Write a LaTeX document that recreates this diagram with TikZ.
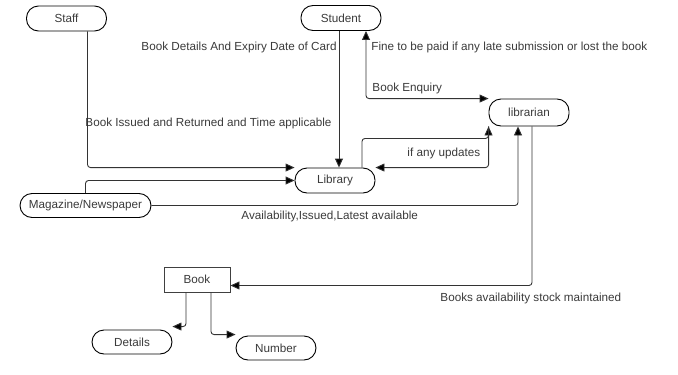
\documentclass[tikz,border=0pt]{standalone}
\usepackage{fontspec}
\setmainfont{Liberation Sans}
\usepackage{tikz}
\usetikzlibrary{arrows.meta}
\definecolor{ink}{HTML}{3A3A3A}
\tikzstyle{Entity}=[rectangle, rounded corners=12pt, minimum width=80, minimum height=25, inner sep=2, text centered, draw=black, line width=0.9pt]
\tikzstyle{Store}=[rectangle, minimum width=66, minimum height=25, text centered, draw=black!75, line width=0.9pt]
\tikzstyle{Flow}=[inner sep=0, anchor=west]

\begin{document}
\begin{tikzpicture}[x=1pt, y=-1pt, font=\fontsize{11.7}{14}\selectfont, text=ink,
    every path/.append style={line width=0.9pt},
    >={Triangle[length=9pt, width=8pt, fill=black]}]
    \useasboundingbox (0,0) rectangle (678,375);
    \path
    (66.5,18.5) node[Entity] (staff) {Staff}
    (341,18) node[Entity] (student) {Student}
    (335,180.5) node[Entity] (library) {Library}
    (529,112.5) node[Entity, minimum height=27] (librarian) {librarian}
    (85.5,205.5) node[Entity, minimum width=131, minimum height=24] (magazine) {Magazine/Newspaper}
    (197,279.5) node[Store] (book) {Book}
    (132,342) node[Entity, minimum height=24] (details) {Details}
    (276,348) node[Entity, minimum height=24] (number) {Number};

    \path (141,47) node[Flow] {Book Details And Expiry Date of Card}
    (85,123) node[Flow] {Book Issued and Returned and Time applicable}
    (371,47) node[Flow] {Fine to be paid if any late submission or lost the book}
    (372,88) node[Flow] {Book Enquiry}
    (407,153) node[Flow] {if any updates}
    (241,216) node[Flow] {Availability,Issued,Latest available}
    (440,298) node[Flow] {Books availability stock maintained};

    \begin{scope}[draw=black!80, rounded corners=3pt]
    \draw[->] ([xshift=21pt]staff.south) |- (library.north west);
    \draw[->] (magazine.north) |- (library.west);
    \draw[->] ([xshift=-2pt]student.south) -- ([xshift=-2pt]student.south |- library.north);
    \draw[<->] ([xshift=25pt]student.south) |- (librarian.north west);
    \draw[->] ([xshift=27pt]library.north) |- ([yshift=-12pt]librarian.south west) -- (librarian.south west);
    \draw[->] (librarian.south west) |- (library.north east);
    \draw[->] (magazine.east) -| ([xshift=-11pt]librarian.south);
    \draw[->] ([xshift=3pt]librarian.south) |- ([yshift=-6pt]book.east);
    \draw[->] ([xshift=-11pt]book.south) |- ([yshift=3pt]details.north east);
    \draw[->] ([xshift=14pt]book.south) |- ([yshift=1pt]number.north west);
    \end{scope}
\end{tikzpicture}
\end{document}
